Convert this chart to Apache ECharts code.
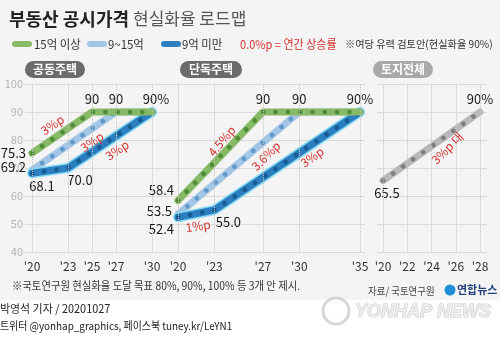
<!DOCTYPE html>
<html><head><meta charset="utf-8">
<script src="https://cdn.jsdelivr.net/npm/echarts@6/dist/echarts.min.js"></script>
<style>html,body{margin:0;padding:0;background:#fff}#c{width:500px;height:338px}</style>
</head><body><div id="c"></div>
<script>
// ---------- data ----------
const yTicks = [40, 50, 60, 70, 80, 90, 100];
const aptTicks = [2020, 2023, 2025, 2027, 2030];
const houseTicks = [2020, 2023, 2027, 2030, 2035];
const landTicks = [2020, 2022, 2024, 2026, 2028];

const aptHighYears = [2020, 2025, 2030];  const aptHigh = [75.3, 90, 90];
const aptMidYears  = [2020, 2027, 2030];  const aptMid  = [69.2, 90, 90];
const aptLowYears  = [2020, 2023, 2030];  const aptLow  = [68.1, 70.0, 90];

const houseHighYears = [2020, 2027, 2035]; const houseHigh = [58.4, 90, 90];
const houseMidYears  = [2020, 2030, 2035]; const houseMid  = [53.5, 90, 90];
const houseLowYears  = [2020, 2023, 2035]; const houseLow  = [52.4, 55.0, 90];

const landYears = [2020, 2028]; const land = [65.5, 90];

const panelTitles = ['공동주택', '단독주택', '토지전체'];
const legendNames = ['15억 이상', '9~15억', '9억 미만'];
// rate annotations: [grid, year, value, text]
const rateNotes = [
  [0, 2021.7, 85.4, '3%p'], [0, 2025.0, 79.3, '3%p'], [0, 2027.1, 76.4, '3%p'],
  [1, 2023.6, 79.6, '4.5%p'], [1, 2027.25, 74.3, '3.6%p'], [1, 2031.05, 73.9, '3%p'], [1, 2021.65, 49.3, '1%p'],
  [2, 2025.3, 77.1, '3%p 대']
];
const rateRot = [34, 34, 34, 50, 45, 35, 8, 45];

// ---------- styles ----------
const FONT = '"Noto Sans CJK KR", "Noto Sans", sans-serif';
const C = {
  green: '#86ba66', greenDot: '#4f8b3a',
  lblue: '#a3c6e6', lblueDot: '#5f98c9',
  blue: '#2b7fc1', blueDot: '#175b90', glow: '#8adcf2',
  grey: '#b9b9b9', greyDot: '#7f7f7f',
  red: '#d8322f'
};

const chart = echarts.init(document.getElementById('c'), null, {renderer: 'canvas'});

const fmt = v => (v === 90 ? '90' : v.toFixed(1));
function labelFmt(suffix) { return p => fmt(p.value[1]) + (suffix || ''); }

function build(g, years, vals, base, dot, labels, z, glow) {
  const data = years.map((y, i) => {
    const l = labels[i];
    return {
      value: [y, vals[i]],
      label: l ? Object.assign({show: true, color: '#1a1a1a', fontSize: 13, fontFamily: FONT,
                                formatter: labelFmt(l.suffix)}, l) : {show: false}
    };
  });
  const common = {type: 'line', xAxisIndex: g, yAxisIndex: g, animation: false, silent: true,
                  emphasis: {disabled: true}, symbol: 'circle', symbolSize: 0, showSymbol: true};
  const out = [];
  if (glow) out.push(Object.assign({}, common, {data: years.map((y, i) => [y, vals[i]]), z: z,
      label: {show: false}, lineStyle: {width: 10, color: glow, cap: 'round', join: 'round'}}));
  out.push(Object.assign({}, common, {data: years.map((y, i) => [y, vals[i]]), z: z + 0.1,
      label: {show: false}, lineStyle: {width: 7, color: base, cap: 'round', join: 'round'}}));
  out.push(Object.assign({}, common, {data: data, z: z + 0.2,
      lineStyle: {width: 4.6, color: dot, type: [0.1, 12.2], cap: 'round', join: 'round'}}));
  return out;
}

const grids = [
  {left: 32, top: 84, width: 120, height: 168},
  {left: 178, top: 84, width: 182, height: 168},
  {left: 383, top: 84, width: 97, height: 168},
  {left: 25, top: 84, width: 340, height: 168},
  {left: 377, top: 84, width: 110, height: 168}
];

function xAxis(g, ticks) {
  return {
    type: 'value', gridIndex: g, min: ticks[0], max: ticks[ticks.length - 1], interval: 1,
    axisLine: {show: false}, axisTick: {show: false}, splitLine: {show: false},
    axisLabel: {show: true, margin: 8, color: '#333', fontSize: 12, fontFamily: FONT,
      formatter: v => (ticks.indexOf(v) >= 0 ? "'" + String(v).slice(2) : '')}
  };
}
function yAxisHidden(g) {
  return {type: 'value', gridIndex: g, min: yTicks[0], max: yTicks[yTicks.length - 1], interval: 10, show: false};
}
function yAxisBg(g, showLabel) {
  return {type: 'value', gridIndex: g, min: yTicks[0], max: yTicks[yTicks.length - 1], interval: 10,
    axisLine: {show: false}, axisTick: {show: false},
    splitLine: {show: true, lineStyle: {color: '#dadada', width: 1}},
    axisLabel: {show: showLabel, margin: 2, color: '#b4b4b4', fontSize: 11, fontFamily: FONT}};
}

function vLines(g, ticks) {
  return {type: 'line', xAxisIndex: g, yAxisIndex: g, data: [], silent: true, animation: false, z: 1,
    markLine: {silent: true, symbol: ['none', 'none'], animation: false, label: {show: false},
      lineStyle: {type: 'dotted', color: '#c4c4c4', width: 1},
      emphasis: {disabled: true},
      data: ticks.map(t => ({xAxis: t}))}};
}

const series = [].concat(
  [vLines(0, aptTicks), vLines(1, houseTicks), vLines(2, landTicks)],
  build(0, aptMidYears, aptMid, C.lblue, C.lblueDot,
        [{position: 'left', distance: 6, offset: [0, -3]}, {position: 'top', distance: 6}, null], 2),
  build(0, aptLowYears, aptLow, C.blue, C.blueDot,
        [{position: 'bottom', distance: 6, offset: [10, 0]}, {position: 'bottom', distance: 6, offset: [12, 0]}, null], 3, C.glow),
  build(0, aptHighYears, aptHigh, C.green, C.greenDot,
        [{position: 'left', distance: 6}, {position: 'top', distance: 6}, {position: 'top', distance: 6, suffix: '%', offset: [4, 0]}], 4),
  build(1, houseMidYears, houseMid, C.lblue, C.lblueDot,
        [{position: 'left', distance: 6, offset: [0, -3]}, {position: 'top', distance: 6}, null], 2),
  build(1, houseLowYears, houseLow, C.blue, C.blueDot,
        [{position: 'left', distance: 4, offset: [0, 12]}, {position: 'bottom', distance: 6, offset: [14, 0]}, null], 3, C.glow),
  build(1, houseHighYears, houseHigh, C.green, C.greenDot,
        [{position: 'left', distance: 4, offset: [0, -10]}, {position: 'top', distance: 6}, {position: 'top', distance: 6, suffix: '%'}], 4),
  build(2, landYears, land, C.grey, C.greyDot,
        [{position: 'bottom', distance: 6, offset: [4, 0]}, {position: 'top', distance: 6, suffix: '%', offset: [0, 0]}], 2)
);

chart.setOption({
  backgroundColor: '#ffffff',
  animation: false,
  grid: grids,
  xAxis: [xAxis(0, aptTicks), xAxis(1, houseTicks), xAxis(2, landTicks),
          {type: 'value', gridIndex: 3, show: false}, {type: 'value', gridIndex: 4, show: false}],
  yAxis: [yAxisHidden(0), yAxisHidden(1), yAxisHidden(2), yAxisBg(3, true), yAxisBg(4, false)],
  series: series
});

// ---------- graphics ----------
const G = [];
G.push({type: 'rect', z: -100, silent: true, shape: {x: 0, y: 0, width: 500, height: 300}, style: {fill: '#f4f4f4'}});
G.push({type: 'text', z: 10, x: 9, y: 19, style: {text: '부동산 공시가격', font: 'bold 18px ' + FONT, fill: '#222', verticalAlign: 'middle'}});
G.push({type: 'text', z: 10, x: 133, y: 19, style: {text: '현실화율 로드맵', font: '17px ' + FONT, fill: '#555', verticalAlign: 'middle'}});

const sw = [[12, C.green, 34], [87, C.lblue, 108], [161, C.blue, 182]];
sw.forEach((s, i) => {
  G.push({type: 'rect', z: 10, shape: {x: s[0], y: 41, width: 20, height: 6, r: 3}, style: {fill: s[1]}});
  G.push({type: 'text', z: 10, x: s[2], y: 44, scaleX: 0.95, style: {text: legendNames[i], font: '12px ' + FONT, fill: '#333', verticalAlign: 'middle'}});
});
G.push({type: 'text', z: 10, x: 240, y: 44, scaleX: 0.92, style: {text: '0.0%p = 연간 상승률', font: '12px ' + FONT, fill: C.red, verticalAlign: 'middle'}});
G.push({type: 'text', z: 10, x: 345, y: 44, scaleX: 0.97, style: {text: '※여당 유력 검토안(현실화율 90%)', font: '10.5px ' + FONT, fill: '#333', verticalAlign: 'middle'}});

const pills = [[25, 60, '#6b6b6b'], [180, 62, '#6b6b6b'], [373, 60, '#a9a9a9']];
pills.forEach((p, i) => {
  G.push({type: 'rect', z: 10, shape: {x: p[0], y: 61, width: p[1], height: 17, r: 8.5}, style: {fill: p[2]}});
  G.push({type: 'text', z: 11, x: p[0] + p[1] / 2, y: 69.5, style: {text: panelTitles[i], font: 'bold 12px ' + FONT, fill: '#fff', align: 'center', verticalAlign: 'middle'}});
});

rateNotes.forEach((n, i) => {
  const pt = chart.convertToPixel({gridIndex: n[0]}, [n[1], n[2]]);
  G.push({type: 'text', z: 20, x: pt[0], y: pt[1], rotation: rateRot[i] * Math.PI / 180,
    style: {text: n[3], font: '12px ' + FONT, fill: C.red, align: 'center', verticalAlign: 'middle'}});
});

G.push({type: 'text', z: 10, x: 12, y: 286, scaleX: 0.9, style: {text: '※국토연구원 현실화율 도달 목표 80%, 90%, 100% 등 3개 안 제시.', font: '11.5px ' + FONT, fill: '#333', verticalAlign: 'middle'}});
// watermark
G.push({type: 'circle', z: 5, shape: {cx: 336, cy: 311, r: 13}, style: {fill: 'none', stroke: '#d6d6d6', lineWidth: 3}});
G.push({type: 'text', z: 5, x: 355, y: 312, style: {text: 'YONHAP NEWS', font: 'italic bold 18px "Liberation Sans", sans-serif', fill: '#ececec', stroke: '#c9c9c9', lineWidth: 1, verticalAlign: 'middle'}});
G.push({type: 'text', z: 10, x: 368, y: 291, scaleX: 0.9, style: {text: '자료/ 국토연구원', font: '10.5px ' + FONT, fill: '#444', verticalAlign: 'middle'}});
G.push({type: 'circle', z: 10, shape: {cx: 450, cy: 290, r: 5.5}, style: {fill: '#1e8fd6'}});
G.push({type: 'text', z: 10, x: 457, y: 290, style: {text: '연합뉴스', font: 'bold 11px ' + FONT, fill: '#23407f', verticalAlign: 'middle'}});
G.push({type: 'text', z: 10, x: 0, y: 309, scaleX: 0.95, style: {text: '박영석 기자 / 20201027', font: '11.5px ' + FONT, fill: '#222', verticalAlign: 'middle'}});
G.push({type: 'text', z: 10, x: 0, y: 326, scaleX: 0.9, style: {text: '트위터 @yonhap_graphics, 페이스북 tuney.kr/LeYN1', font: '11px ' + FONT, fill: '#222', verticalAlign: 'middle'}});

chart.setOption({graphic: G});
</script></body></html>
